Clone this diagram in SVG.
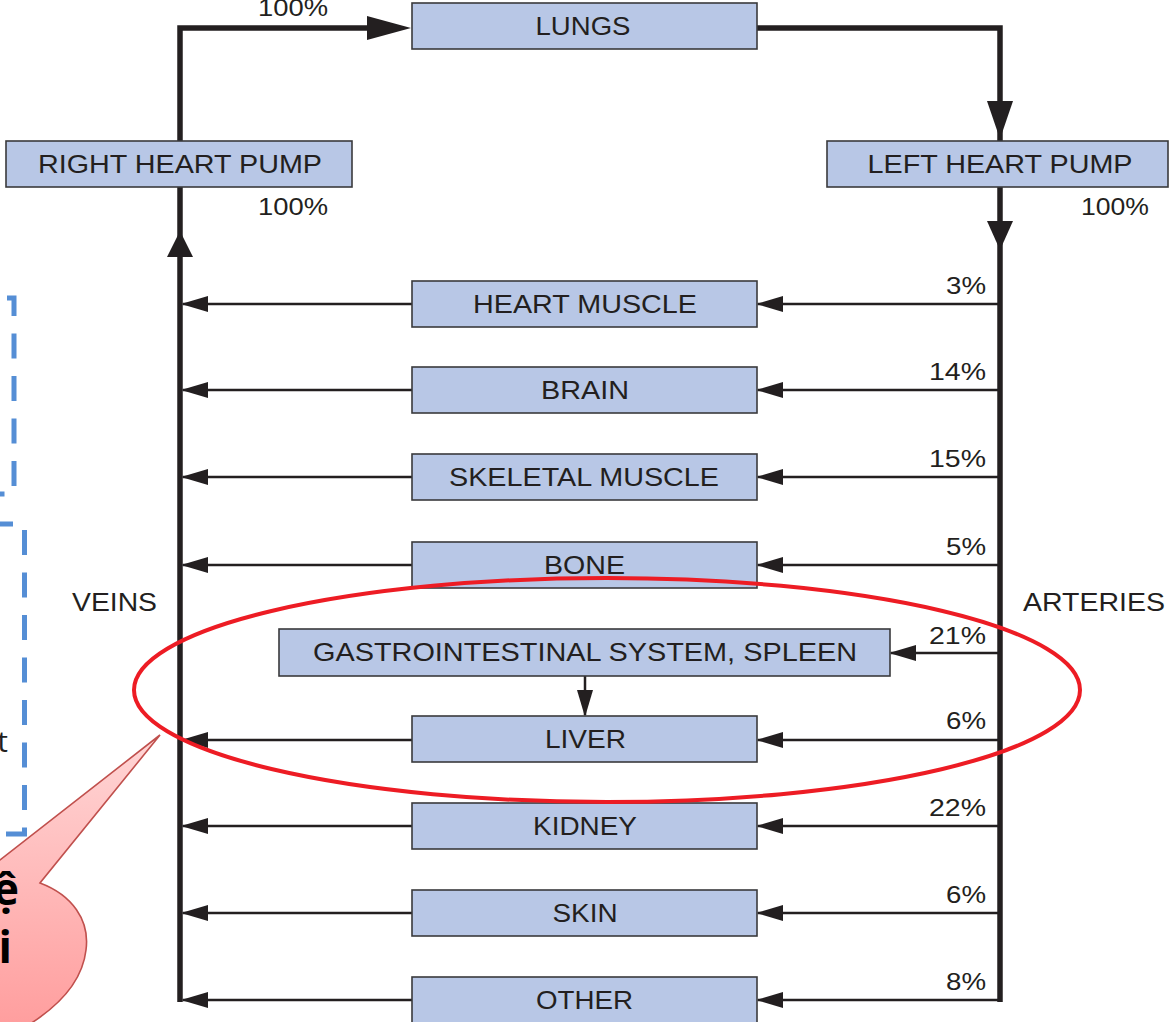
<svg xmlns="http://www.w3.org/2000/svg" width="1169" height="1022" viewBox="0 0 1169 1022">
<style>
.box{fill:#b8c7e6;stroke:#3a3a3c;stroke-width:1.6}
.lbl{font-family:"Liberation Sans",Arial,sans-serif;font-size:25px;fill:#231f20;text-anchor:middle}
.pct{font-family:"Liberation Sans",Arial,sans-serif;font-size:24px;fill:#231f20;text-anchor:end}
.main{fill:none;stroke:#231f20;stroke-width:5.5;stroke-linejoin:miter}
.br{fill:none;stroke:#231f20;stroke-width:2.5;marker-end:url(#ah)}
.big{fill:#231f20}
.dash{fill:none;stroke:#558ed5;stroke-width:5;stroke-dasharray:25 17.5}
.cal{font-family:"Open Sans","Liberation Sans",sans-serif;font-size:44px;font-weight:bold;fill:#000;text-anchor:end}
</style>
<defs>
<marker id="ah" markerUnits="userSpaceOnUse" viewBox="0 0 27 16" refX="25" refY="8" markerWidth="27" markerHeight="16" orient="auto">
<path d="M0,0 L27,8 L0,16 z" fill="#231f20"/>
</marker>
<linearGradient id="pink" x1="0" y1="0" x2="0" y2="1">
<stop offset="0" stop-color="#ffd6d6"/>
<stop offset="1" stop-color="#ff9d9d"/>
</linearGradient>
</defs>

<g id="connectors">
<path class="main" d="M180,1002 V28 H372"/>
<polygon class="big" points="367,16 411,28 367,40"/>
<path class="main" d="M757,28 H1000 V1002"/>
<polygon class="big" points="987,101 1013,101 1000,139"/>
<polygon class="big" points="987,221 1013,221 1000,250"/>
<polygon class="big" points="167,257 193,257 180,231"/>
<path class="br" d="M1000,304 H758"/>
<path class="br" d="M412,304 H183"/>
<path class="br" d="M1000,390 H758"/>
<path class="br" d="M412,390 H183"/>
<path class="br" d="M1000,477 H758"/>
<path class="br" d="M412,477 H183"/>
<path class="br" d="M1000,565 H758"/>
<path class="br" d="M412,565 H183"/>
<path class="br" d="M1000,653 H891"/>
<path class="br" d="M585,676 V715"/>
<path class="br" d="M1000,740 H758"/>
<path class="br" d="M412,740 H183"/>
<path class="br" d="M1000,826 H758"/>
<path class="br" d="M412,826 H183"/>
<path class="br" d="M1000,913 H758"/>
<path class="br" d="M412,913 H183"/>
<path class="br" d="M1000,1000 H758"/>
<path class="br" d="M412,1000 H183"/>
<text class="pct" x="328" y="16" textLength="70" lengthAdjust="spacingAndGlyphs">100%</text>
<text class="pct" x="328" y="215" textLength="70" lengthAdjust="spacingAndGlyphs">100%</text>
<text class="pct" x="1149" y="215" textLength="68" lengthAdjust="spacingAndGlyphs">100%</text>
<text class="pct" x="986" y="294" textLength="40" lengthAdjust="spacingAndGlyphs">3%</text>
<text class="pct" x="986" y="380" textLength="57" lengthAdjust="spacingAndGlyphs">14%</text>
<text class="pct" x="986" y="467" textLength="57" lengthAdjust="spacingAndGlyphs">15%</text>
<text class="pct" x="986" y="555" textLength="40" lengthAdjust="spacingAndGlyphs">5%</text>
<text class="pct" x="986" y="644" textLength="57" lengthAdjust="spacingAndGlyphs">21%</text>
<text class="pct" x="986" y="729" textLength="40" lengthAdjust="spacingAndGlyphs">6%</text>
<text class="pct" x="986" y="816" textLength="57" lengthAdjust="spacingAndGlyphs">22%</text>
<text class="pct" x="986" y="903" textLength="40" lengthAdjust="spacingAndGlyphs">6%</text>
<text class="pct" x="986" y="990" textLength="40" lengthAdjust="spacingAndGlyphs">8%</text>
<text class="lbl" x="114.5" y="611" textLength="85" lengthAdjust="spacingAndGlyphs">VEINS</text>
<text class="lbl" x="1094" y="611" textLength="142" lengthAdjust="spacingAndGlyphs">ARTERIES</text>
</g>

<g id="lungs"><rect class="box" x="412" y="3" width="345" height="46"/><text class="lbl" x="583" y="35" textLength="95" lengthAdjust="spacingAndGlyphs">LUNGS</text></g>
<g id="right-heart-pump"><rect class="box" x="6" y="141" width="346" height="46"/><text class="lbl" x="180" y="172.5" textLength="284" lengthAdjust="spacingAndGlyphs">RIGHT HEART PUMP</text></g>
<g id="left-heart-pump"><rect class="box" x="827" y="141" width="341" height="46"/><text class="lbl" x="1000" y="172.5" textLength="265" lengthAdjust="spacingAndGlyphs">LEFT HEART PUMP</text></g>
<g id="heart-muscle"><rect class="box" x="412" y="281" width="345" height="46"/><text class="lbl" x="585" y="313" textLength="224" lengthAdjust="spacingAndGlyphs">HEART MUSCLE</text></g>
<g id="brain"><rect class="box" x="412" y="367" width="345" height="46"/><text class="lbl" x="585" y="399" textLength="88" lengthAdjust="spacingAndGlyphs">BRAIN</text></g>
<g id="skeletal-muscle"><rect class="box" x="412" y="454" width="345" height="46"/><text class="lbl" x="584" y="486" textLength="270" lengthAdjust="spacingAndGlyphs">SKELETAL MUSCLE</text></g>
<g id="bone"><rect class="box" x="412" y="542" width="345" height="46"/><text class="lbl" x="584.5" y="574" textLength="81" lengthAdjust="spacingAndGlyphs">BONE</text></g>
<g id="gi-spleen"><rect class="box" x="279" y="629" width="611" height="47"/><text class="lbl" x="585" y="661" textLength="544" lengthAdjust="spacingAndGlyphs">GASTROINTESTINAL SYSTEM, SPLEEN</text></g>
<g id="liver"><rect class="box" x="412" y="716" width="345" height="46"/><text class="lbl" x="585.5" y="748" textLength="81" lengthAdjust="spacingAndGlyphs">LIVER</text></g>
<g id="kidney"><rect class="box" x="412" y="803" width="345" height="46"/><text class="lbl" x="585" y="835" textLength="104" lengthAdjust="spacingAndGlyphs">KIDNEY</text></g>
<g id="skin"><rect class="box" x="412" y="890" width="345" height="46"/><text class="lbl" x="585" y="922" textLength="65" lengthAdjust="spacingAndGlyphs">SKIN</text></g>
<g id="other"><rect class="box" x="412" y="977" width="345" height="46"/><text class="lbl" x="584.5" y="1009" textLength="97" lengthAdjust="spacingAndGlyphs">OTHER</text></g>

<g id="annotations">
<path class="dash" d="M7,298 H14 V494 H-20"/>
<path class="dash" d="M-12,524 H24.5 V834 H-20"/>
<text x="8" y="752" font-family="'Open Sans','Liberation Sans',sans-serif" font-size="30" fill="#231f20" text-anchor="end">t</text>
<ellipse cx="607" cy="690" rx="473" ry="112" fill="none" stroke="#ed1c24" stroke-width="4"/>
<path d="M160,735 L40,883 C72,895 90,920 86,950 C82,985 55,1010 20,1030 L-10,1030 L-10,860 L0,860 Z" fill="url(#pink)" stroke="#c0504d" stroke-width="1.6"/>
<text class="cal" x="19" y="905">ệ</text>
<text class="cal" x="12" y="963">i</text>
</g>
</svg>
